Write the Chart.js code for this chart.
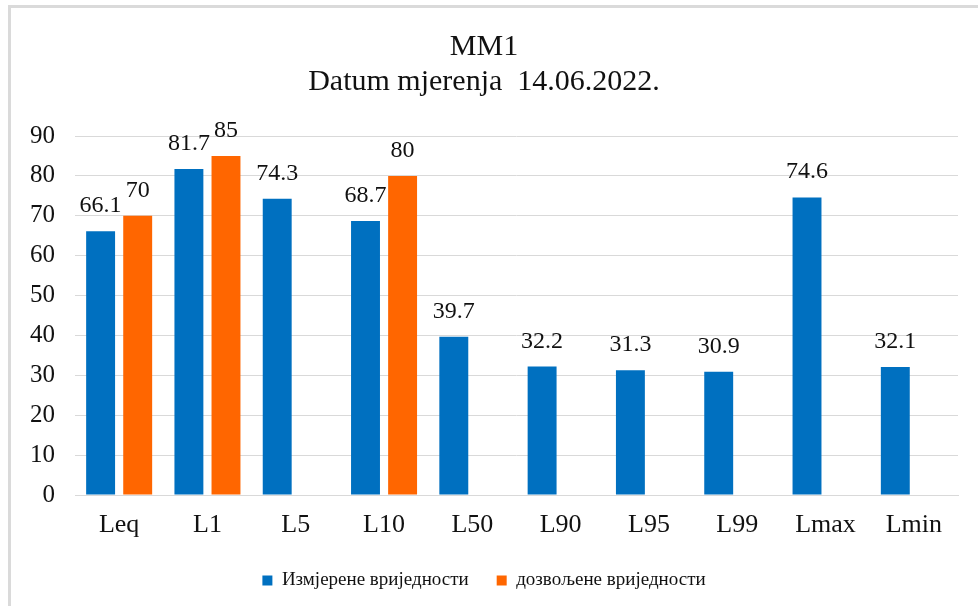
<!DOCTYPE html>
<html>
<head>
    <title>MM1</title>
    <script src="https://cdn.jsdelivr.net/npm/chart.js"></script>
    <style>
        body {
            margin: 0;
            background-color: #ffffff;
            overflow: hidden;
        }

        .frame {
            position: absolute;
            left: 8px;
            top: 5px;
            width: 1000px;
            height: 700px;
            border-top: 3px solid #dadada;
            border-left: 3px solid #dadada;
        }

        .chart-box {
            position: absolute;
            left: 0;
            top: 0;
            width: 978px;
            height: 606px;
        }
    </style>
</head>
<body>
    <div class="frame"></div>
    <div class="chart-box">
        <canvas id="mmChart"></canvas>
    </div>

    <script>
        var categories = ['Leq', 'L1', 'L5', 'L10', 'L50', 'L90', 'L95', 'L99', 'Lmax', 'Lmin'];
        var measuredValues = [66.1, 81.7, 74.3, 68.7, 39.7, 32.2, 31.3, 30.9, 74.6, 32.1];
        var allowedValues = [70, 85, null, 80, null, null, null, null, null, null];
        var yTicks = [0, 10, 20, 30, 40, 50, 60, 70, 80, 90];

        var serif = "'Liberation Serif', 'Times New Roman', serif";
        var textColor = '#111111';

        // value labels above each bar
        var barLabels = {
            id: 'barLabels',
            afterDatasetsDraw: function (chart) {
                var ctx = chart.ctx;
                ctx.save();
                ctx.font = '24px ' + serif;
                ctx.fillStyle = textColor;
                ctx.textAlign = 'center';
                ctx.textBaseline = 'alphabetic';
                chart.data.datasets.forEach(function (ds, i) {
                    var meta = chart.getDatasetMeta(i);
                    meta.data.forEach(function (bar, j) {
                        var v = ds.data[j];
                        if (v === null || v === undefined) return;
                        ctx.fillText(String(v), bar.x, bar.y - 19);
                    });
                });
                ctx.restore();
            }
        };

        var mmChart = new Chart(document.getElementById('mmChart').getContext('2d'), {
            type: 'bar',
            data: {
                labels: categories,
                datasets: [{
                    label: 'Измјерене вриједности',
                    data: measuredValues,
                    backgroundColor: '#0070C0',
                    barPercentage: 0.78,
                    categoryPercentage: 0.84
                }, {
                    label: 'дозвољене вриједности',
                    data: allowedValues,
                    backgroundColor: '#FF6600',
                    barPercentage: 0.78,
                    categoryPercentage: 0.84
                }]
            },
            options: {
                responsive: true,
                maintainAspectRatio: false,
                animation: false,
                layout: {
                    padding: { left: 10, right: 20, top: 0, bottom: 6 }
                },
                plugins: {
                    title: {
                        display: true,
                        text: ['MM1', 'Datum mjerenja  14.06.2022.'],
                        color: textColor,
                        font: { family: serif, size: 30, weight: 'normal', lineHeight: 1.15 },
                        padding: { top: 30, bottom: 37 }
                    },
                    legend: {
                        position: 'bottom',
                        labels: {
                            color: textColor,
                            font: { family: serif, size: 19 },
                            boxWidth: 10,
                            boxHeight: 10,
                            padding: 28
                        }
                    },
                    tooltip: { enabled: false }
                },
                scales: {
                    x: {
                        grid: { display: false },
                        border: { color: '#d9d9d9', width: 1 },
                        ticks: {
                            color: textColor,
                            font: { family: serif, size: 26 },
                            padding: 7
                        },
                        afterFit: function (scale) { scale.height = 48; }
                    },
                    y: {
                        min: 0,
                        max: 90,
                        afterBuildTicks: function (scale) {
                            scale.ticks = yTicks.map(function (t) { return { value: t }; });
                        },
                        grid: { color: '#d9d9d9', drawTicks: false },
                        border: { display: false },
                        ticks: {
                            color: textColor,
                            font: { family: serif, size: 25 },
                            padding: 20
                        },
                        afterFit: function (scale) { scale.width = 65; }
                    }
                }
            },
            plugins: [barLabels]
        });
    </script>
</body>
</html>
